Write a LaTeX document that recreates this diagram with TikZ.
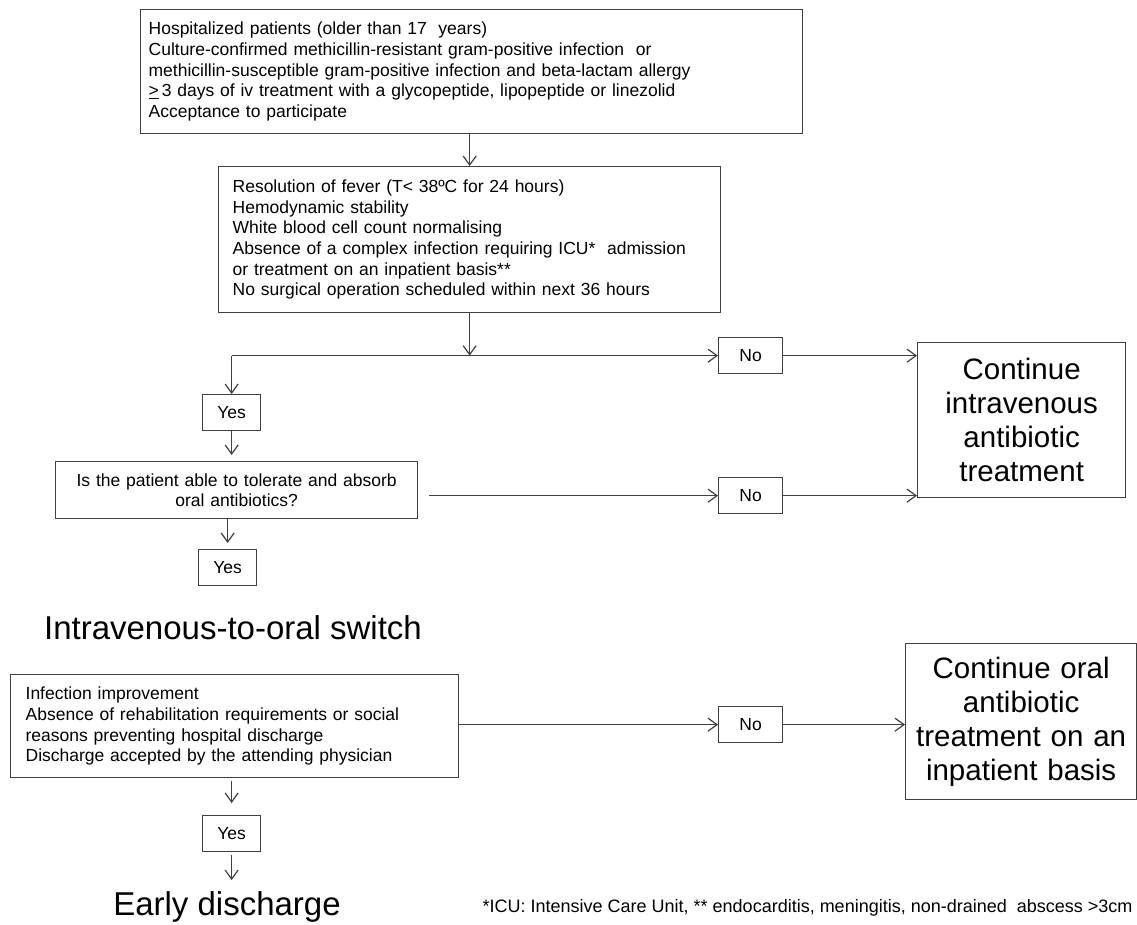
\documentclass[tikz,border=0pt]{standalone}
\usepackage{fontspec}
\setmainfont{Liberation Sans}
\usetikzlibrary{arrows.meta}
\newcommand{\smallfs}{\fontsize{17.5}{20.7}\selectfont}
\newcommand{\notefs}{\fontsize{18}{21}\selectfont}
\newcommand{\bigfs}{\fontsize{29.5}{34}\selectfont}
\newcommand{\titlefs}{\fontsize{33}{40}\selectfont}

\begin{document}
\begin{tikzpicture}[x=1pt,y=-1pt,
  box/.style={draw=black!75, line width=1.3pt, rectangle, inner sep=0pt, anchor=north west, font=\smallfs},
  tag/.style={box, minimum width=58pt, minimum height=36pt},
  endbox/.style={box, font=\bigfs, align=center},
  arr/.style={draw=black!75, line width=1.2pt, -{Straight Barb[length=9pt,width=13pt,line width=1.2pt]}}]
\useasboundingbox (0,0) rectangle (1137,925);
\node[box, minimum width=662pt, minimum height=124pt, text width=646pt, inner xsep=8pt, align=left] (crit) at (140,9)
  {\rule{0pt}{8pt}Hospitalized patients (older than 17 \ years)\\
   Culture-confirmed methicillin-resistant gram-positive infection \ or\\
   methicillin-susceptible gram-positive infection and beta-lactam allergy\\
   \underline{>}\,3 days of iv treatment with a glycopeptide, lipopeptide or linezolid\\
   Acceptance to participate};
\node[box, minimum width=502pt, minimum height=146pt, text width=474pt, inner xsep=14pt, align=left] (fever) at (218,166)
  {Resolution of fever (T< 38ºC for 24 hours)\\
   Hemodynamic stability\\
   White blood cell count normalising\\
   Absence of a complex infection requiring ICU* \ admission\\
   or treatment on an inpatient basis**\\
   No surgical operation scheduled within next 36 hours};
\node[tag] (yes1) at (202,394) {Yes};
\node[box, minimum width=362pt, minimum height=57pt, text width=362pt, align=center] (ask) at (55,461)
  {Is the patient able to tolerate and absorb\\ oral antibiotics?};
\node[tag] (yes2) at (198,549) {Yes};
\node[font=\titlefs] (switch) at (233,628) {Intravenous-to-oral switch};
\node[box, minimum width=448pt, minimum height=103pt, text width=418pt, inner xsep=15pt, align=left] (home) at (10,674)
  {Infection improvement\\
   Absence of rehabilitation requirements or social\\
   reasons preventing hospital discharge\\
   Discharge accepted by the attending physician};
\node[tag] (yes3) at (202,815) {Yes};
\node[font=\titlefs] (early) at (227,907) {Early discharge};
\node[tag, minimum width=64pt] (no1) at (718,337) {No};
\node[tag, minimum width=64pt] (no2) at (718,477) {No};
\node[tag, minimum width=64pt] (no3) at (718,706) {No};
\node[endbox, minimum width=208pt, minimum height=155pt, text width=208pt] (iv) at (917,342)
  {Continue\\ intravenous\\ antibiotic\\ treatment};
\node[endbox, minimum width=231pt, minimum height=156pt, text width=231pt] (inpat) at (905,643)
  {Continue oral\\ antibiotic\\ treatment on an\\ inpatient basis};
\node[font=\notefs, anchor=east] (note) at (1136,908)
  {*ICU: Intensive Care Unit, ** endocarditis, meningitis, non-drained \ abscess >3cm};
\coordinate (fork) at (yes1.north |- no1.west);
\draw[arr] (fever.north |- crit.south) -- (fever.north);
\draw[arr] (fever.south) -- (fever.south |- fork);
\draw[arr] (fork) -- (no1.west);
\draw[arr] (fork) -- (yes1.north);
\draw[arr] (no1.east) -- (no1.east -| iv.west);
\draw[arr, shorten >=6pt] (yes1.south) -- (yes1.south |- ask.north);
\draw[arr, shorten <=11pt] (ask.east |- no2.west) -- (no2.west);
\draw[arr] (no2.east) -- (no2.east -| iv.west);
\draw[arr, shorten >=6pt] (ask.south -| yes2.north) -- (yes2.north);
\draw[arr] (home.east |- no3.west) -- (no3.west);
\draw[arr] (no3.east) -- (no3.east -| inpat.west);
\draw[arr, shorten <=3pt, shorten >=12pt] (home.south -| yes3.north) -- (yes3.north);
\draw[arr, shorten <=3pt, shorten >=8pt] (yes3.south) -- (yes3.south |- early.north);
\end{tikzpicture}
\end{document}
